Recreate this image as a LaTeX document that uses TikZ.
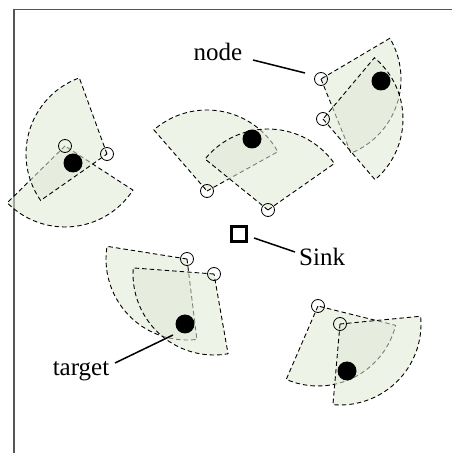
\documentclass[tikz,border=0pt]{standalone}
\usepackage{fontspec}
\setmainfont{Liberation Serif}
\definecolor{secfill}{RGB}{224,233,213}
\definecolor{framegray}{RGB}{85,85,85}
\begin{document}
\begin{tikzpicture}[x=1pt,y=1pt,
  sector/.style={draw=black,line width=0.9pt,dash pattern=on 4.5pt off 3pt,fill=secfill,fill opacity=0.55},
  sensor/.style={circle,draw=black,line width=0.8pt,minimum size=13pt,inner sep=0pt},
  tgt/.style={circle,fill=black,minimum size=19pt,inner sep=0pt},
  sinkbox/.style={rectangle,draw=black,line width=2.4pt,minimum size=15pt,inner sep=0pt},
  lbl/.style={font=\fontsize{25}{30}\selectfont,inner sep=0pt},
  pointer/.style={line width=1.5pt}]
\useasboundingbox (0,0) rectangle (452,453);
% frame
\draw[framegray,line width=1.5pt] (14,0) -- (14,443.5) -- (452,443.5);
% apex coordinates
\coordinate (pA) at (107,299);
\coordinate (pB) at (65,307);
\coordinate (pC) at (207,262);
\coordinate (pD) at (268,243);
\coordinate (pE) at (321,374);
\coordinate (pF) at (323,334);
\coordinate (pG) at (187,194);
\coordinate (pH) at (214,179);
\coordinate (pI) at (318,147);
\coordinate (pJ) at (340,129);
% sectors
\draw[sector] (pB) -- ++(224.5:81) arc[start angle=224.5,end angle=327,radius=81] -- cycle;
\draw[sector] (pA) -- ++(110:81) arc[start angle=110,end angle=215,radius=81] -- cycle;
\draw[sector] (pC) -- ++(29:81) arc[start angle=29,end angle=131,radius=81] -- cycle;
\draw[sector] (pD) -- ++(35:81) arc[start angle=35,end angle=141,radius=81] -- cycle;
\draw[sector] (pE) -- ++(-68:80) arc[start angle=-68,end angle=30.6,radius=80] -- cycle;
\draw[sector] (pF) -- ++(-49.4:80) arc[start angle=-49.4,end angle=50,radius=80] -- cycle;
\draw[sector] (pG) -- ++(171:81) arc[start angle=171,end angle=277,radius=81] -- cycle;
\draw[sector] (pH) -- ++(175.7:81) arc[start angle=175.7,end angle=280,radius=81] -- cycle;
\draw[sector] (pI) -- ++(246.6:80) arc[start angle=246.6,end angle=346,radius=80] -- cycle;
\draw[sector] (pJ) -- ++(265:81) arc[start angle=265,end angle=365.5,radius=81] -- cycle;
% sensor nodes
\foreach \p in {A,B,C,D,E,F,G,H,I,J}{\node[sensor] (n\p) at (p\p) {};}
% targets
\node[tgt] (t1) at (73,290) {};
\node[tgt] (t2) at (252,314) {};
\node[tgt] (t3) at (381,372) {};
\node[tgt] (t4) at (185,129) {};
\node[tgt] (t5) at (347,82) {};
% sink
\node[sinkbox] (sink) at (239,219) {};
% labels
\node[lbl] (lnode) at (218,401) {node};
\node[lbl,anchor=west] (lsink) at (299,196) {Sink};
\node[lbl] (ltarget) at (81,82) {target};
\coordinate (cn1) at (253,393);
\coordinate (cn2) at (305,380);
\coordinate (cs1) at (254,215);
\coordinate (cs2) at (295,201);
\coordinate (ct1) at (115,90);
\coordinate (ct2) at (173,118);
\draw[pointer] (cn1) -- (cn2);
\draw[pointer] (cs1) -- (cs2);
\draw[pointer] (ct1) -- (ct2);
\end{tikzpicture}
\end{document}
